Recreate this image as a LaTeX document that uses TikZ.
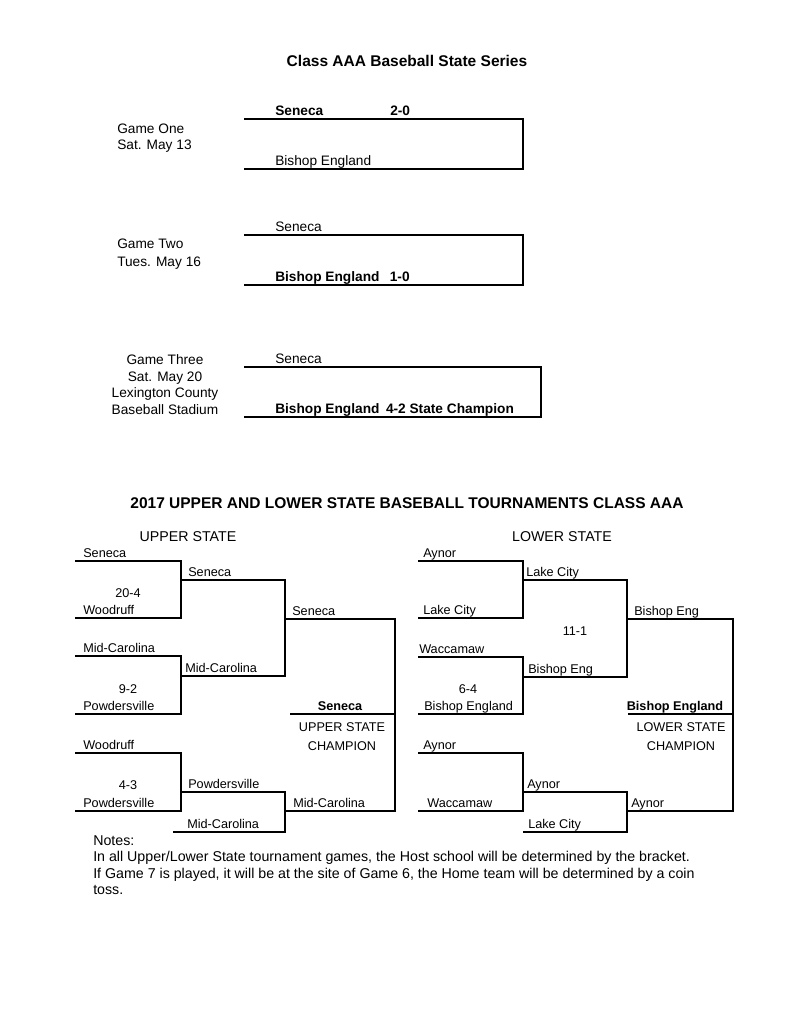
\documentclass[tikz,border=0pt]{standalone}
\usepackage{fontspec}
\setmainfont{Liberation Sans}
\begin{document}
\begin{tikzpicture}[x=0.7737pt,y=-0.7737pt,
    every node/.style={inner sep=0pt,font=\fontsize{9.8}{12}\selectfont},
    lbl/.style={anchor=base west},
    mid/.style={anchor=base},
    ser/.style={font=\fontsize{10.6}{13}\selectfont},
    serwin/.style={font=\fontsize{10.6}{13}\selectfont\bfseries},
    win/.style={font=\fontsize{9.8}{12}\selectfont\bfseries},
    head/.style={font=\fontsize{12}{14}\selectfont\bfseries},
    side/.style={font=\fontsize{11}{13}\selectfont},
    bk/.style={line width=0.9pt}]
    \useasboundingbox (0,0) rectangle (791,1024);
    % state series
    \node[mid,head] (title) at (407,66) {Class AAA Baseball State Series};
    \draw[bk] (244,119) -- (523,119) -- (523,169) -- (244,169);
    \draw[bk] (244,235) -- (523,235) -- (523,285) -- (244,285);
    \draw[bk] (244,367) -- (541,367) -- (541,417) -- (244,417);
    \node[lbl,ser] (g1a) at (117,133) {Game One};
    \node[lbl,ser] (g1b) at (117,149) {Sat. May 13};
    \node[lbl,serwin] (g1w) at (275,115) {Seneca};
    \node[lbl,serwin] (g1s) at (390,115) {2-0};
    \node[lbl,ser] (g1l) at (275,165) {Bishop England};
    \node[lbl,ser] (g2a) at (117,248) {Game Two};
    \node[lbl,ser] (g2b) at (117,266) {Tues. May 16};
    \node[lbl,ser] (g2l) at (275,231) {Seneca};
    \node[lbl,serwin] (g2w) at (275,281) {Bishop England\hspace{8pt}1-0};
    \node[mid,ser] (g3a) at (165,364) {Game Three};
    \node[mid,ser] (g3b) at (165,381) {Sat. May 20};
    \node[mid,ser] (g3c) at (165,397) {Lexington County};
    \node[mid,ser] (g3d) at (165,414) {Baseball Stadium};
    \node[lbl,ser] (g3l) at (275,363) {Seneca};
    \node[lbl,serwin] (g3w) at (275,413) {Bishop England\hspace{5pt}4-2 State Champion};
    % tournaments
    \node[mid,head] (title2) at (407,508) {2017 UPPER AND LOWER STATE BASEBALL TOURNAMENTS CLASS AAA};
    \node[mid,side] (us) at (188,541) {UPPER STATE};
    \node[mid,side] (ls) at (562,541) {LOWER STATE};
    % upper state
    \draw[bk] (75,561) -- (181,561) -- (181,618) -- (75,618);
    \draw[bk] (75,656) -- (181,656) -- (181,714) -- (75,714);
    \draw[bk] (75,753) -- (181,753) -- (181,811) -- (75,811);
    \draw[bk] (181,580) -- (285,580) -- (285,676) -- (181,676);
    \draw[bk] (181,792) -- (285,792) -- (285,832) -- (173,832);
    \draw[bk] (285,619) -- (395,619) -- (395,811) -- (285,811);
    \draw[bk] (290,714) -- (395,714);
    \node[lbl] (u1) at (83,557) {Seneca};
    \node[lbl] (u2) at (83,614) {Woodruff};
    \node[lbl] (u3) at (83,652) {Mid-Carolina};
    \node[lbl] (u4) at (83,710) {Powdersville};
    \node[lbl] (u5) at (83,749) {Woodruff};
    \node[lbl] (u6) at (83,807) {Powdersville};
    \node[mid] (us1) at (128,597) {20-4};
    \node[mid] (us2) at (128,693) {9-2};
    \node[mid] (us3) at (128,789) {4-3};
    \node[lbl] (u7) at (188,576) {Seneca};
    \node[lbl] (u8) at (185,672) {Mid-Carolina};
    \node[lbl] (u9) at (188,788) {Powdersville};
    \node[lbl] (u10) at (187,828) {Mid-Carolina};
    \node[lbl] (u11) at (292,615) {Seneca};
    \node[lbl] (u12) at (293,807) {Mid-Carolina};
    \node[mid,win] (uc) at (340,710) {Seneca};
    \node[mid] (uca) at (342,731) {UPPER STATE};
    \node[mid] (ucb) at (342,750) {CHAMPION};
    % lower state
    \draw[bk] (418,561) -- (523,561) -- (523,618) -- (418,618);
    \draw[bk] (418,657) -- (523,657) -- (523,714) -- (418,714);
    \draw[bk] (418,753) -- (523,753) -- (523,811) -- (418,811);
    \draw[bk] (523,580) -- (627,580) -- (627,677) -- (523,677);
    \draw[bk] (523,792) -- (627,792) -- (627,832) -- (523,832);
    \draw[bk] (627,619) -- (733,619) -- (733,811) -- (627,811);
    \draw[bk] (628,714) -- (733,714);
    \node[lbl] (l1) at (423,557) {Aynor};
    \node[lbl] (l2) at (423,614) {Lake City};
    \node[lbl] (l3) at (419,653) {Waccamaw};
    \node[lbl] (l4) at (424,710) {Bishop England};
    \node[lbl] (l5) at (423,749) {Aynor};
    \node[lbl] (l6) at (427,807) {Waccamaw};
    \node[mid] (ls1) at (468,693) {6-4};
    \node[mid] (ls2) at (575,635) {11-1};
    \node[lbl] (l7) at (526,576) {Lake City};
    \node[lbl] (l8) at (528,673) {Bishop Eng};
    \node[lbl] (l9) at (527,788) {Aynor};
    \node[lbl] (l10) at (528,828) {Lake City};
    \node[lbl] (l11) at (634,615) {Bishop Eng};
    \node[lbl] (l12) at (631,807) {Aynor};
    \node[mid,win] (lc) at (675,710) {Bishop England};
    \node[mid] (lca) at (681,731) {LOWER STATE};
    \node[mid] (lcb) at (681,750) {CHAMPION};
    % notes
    \node[lbl,side] (n1) at (93,845) {Notes:};
    \node[lbl,side] (n2) at (93,861) {In all Upper/Lower State tournament games, the Host school will be determined by the bracket.};
    \node[lbl,side] (n3) at (93,878) {If Game 7 is played, it will be at the site of Game 6, the Home team will be determined by a coin};
    \node[lbl,side] (n4) at (93,894) {toss.};
\end{tikzpicture}
\end{document}
